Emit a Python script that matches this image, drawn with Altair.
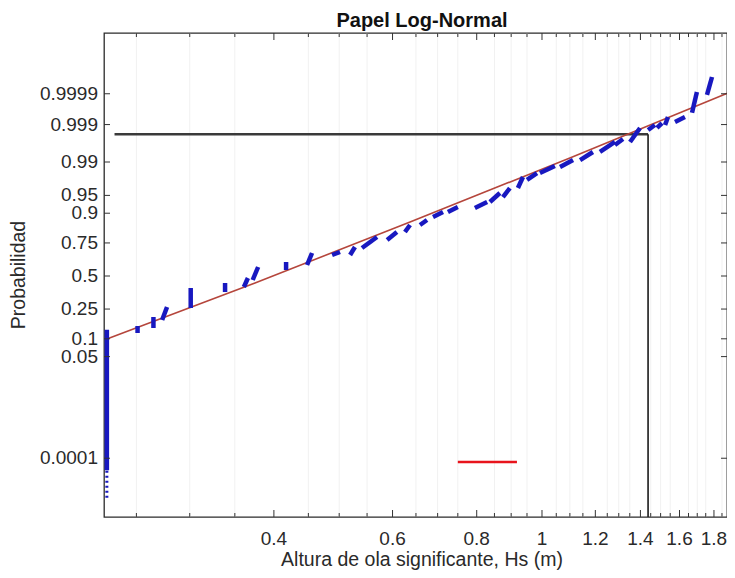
import altair as alt
import pandas as pd
from statistics import NormalDist

nd = NormalDist()

# ---------------- data ----------------
# empirical plotting positions, drawn as short thick segments (one per cluster of equal/near Hs)
hs_lo = [0.226, 0.251, 0.265, 0.273, 0.301, 0.3385, 0.361, 0.372, 0.417, 0.448, 0.488, 0.519,
         0.5405, 0.589, 0.626, 0.659, 0.689, 0.725, 0.795, 0.837, 0.875, 0.921, 0.950, 0.993,
         1.0635, 1.139, 1.219, 1.283, 1.351, 1.437, 1.4815, 1.523, 1.5755, 1.670, 1.7575]
hs_hi = [0.226, 0.251, 0.265, 0.2776, 0.301, 0.3385, 0.366, 0.379, 0.417, 0.4557, 0.5014, 0.5277,
         0.569, 0.609, 0.637, 0.675, 0.713, 0.750, 0.829, 0.866, 0.896, 0.937, 0.983, 1.045,
         1.112, 1.190, 1.283, 1.319, 1.398, 1.471, 1.507, 1.538, 1.630, 1.698, 1.788]
p_lo = [3.7e-5, 0.1224, 0.1444, 0.1846, 0.2569, 0.3718, 0.4112, 0.4675, 0.5487, 0.5888, 0.6659, 0.6659,
        0.7161, 0.7688, 0.8154, 0.8510, 0.8857, 0.9042, 0.9174, 0.9345, 0.9465, 0.9637, 0.9750, 0.9822,
        0.9869, 0.9910, 0.99431, 0.99624, 0.99688, 0.99856, 0.99874, 0.99897, 0.99916, 0.99957, 0.99989]
p_hi = [0.136, 0.1539, 0.2013, 0.2634, 0.4032, 0.4431, 0.4837, 0.5729, 0.6124, 0.6806, 0.6879, 0.7230,
        0.7870, 0.8154, 0.8510, 0.8735, 0.9042, 0.9205, 0.9345, 0.9549, 0.9637, 0.9783, 0.9822, 0.9876,
        0.9910, 0.99431, 0.99688, 0.99741, 0.99874, 0.99897, 0.99910, 0.99941, 0.99941, 0.999913, 0.9999756]

# dotted tail of the lowest cluster
tail_hs = [0.226]
tail_p_lo = [3.0e-6]
tail_p_hi = [3.7e-5]

# fitted log-normal line
fit_hs = [0.226, 0.375, 0.637, 1.100, 1.934]
fit_p = [0.0992, 0.4431, 0.8648, 0.99198, 0.999926]

# design value lines
design_hs = 1.437
design_p = 0.9981
design_hs_start = 0.232

# short red segment
red_hs = [0.750, 0.918]
red_p = [7.35e-5, 7.35e-5]

# texts
title_text = "Papel Log-Normal"
x_title = "Altura de ola significante, Hs (m)"
y_title = "Probabilidad"

# axes
prob_ticks = [0.0001, 0.05, 0.1, 0.25, 0.5, 0.75, 0.9, 0.95, 0.99, 0.999, 0.9999]
prob_labels = ["0.0001", "0.05", "0.1", "0.25", "0.5", "0.75", "0.9", "0.95", "0.99", "0.999", "0.9999"]
hs_ticks = [0.4, 0.6, 0.8, 1.0, 1.2, 1.4, 1.6, 1.8]
hs_labels = ["0.4", "0.6", "0.8", "1", "1.2", "1.4", "1.6", "1.8"]
hs_minor = [round(0.25 + 0.05 * i, 2) for i in range(33)]

X_DOM = [0.2238, 1.882]
Z_DOM = [-4.918, 4.959]
W, H = 623, 484

z = nd.inv_cdf

# ---------------- tables ----------------
seg = pd.DataFrame({"hs": hs_lo, "hs2": hs_hi,
                    "z": [z(p) for p in p_lo], "z2": [z(p) for p in p_hi]})
tail = pd.DataFrame({"hs": tail_hs, "z": [z(p) for p in tail_p_lo], "z2": [z(p) for p in tail_p_hi]})
fit = pd.DataFrame({"hs": fit_hs, "z": [z(p) for p in fit_p]})
hline = pd.DataFrame({"hs": [design_hs_start], "hs2": [design_hs], "z": [z(design_p)]})
vline = pd.DataFrame({"hs": [design_hs], "z": [Z_DOM[0]], "z2": [z(design_p)]})
red = pd.DataFrame({"hs": [red_hs[0]], "hs2": [red_hs[1]], "z": [z(red_p[0])]})
yt = pd.DataFrame({"z": [z(p) for p in prob_ticks], "label": prob_labels})
xt = pd.DataFrame({"hs": hs_ticks, "label": hs_labels})
xm = pd.DataFrame({"hs": [v for v in hs_minor if all(abs(v - t) > 1e-6 for t in hs_ticks)]})

xs = alt.Scale(type="log", domain=X_DOM, nice=False, zero=False)
ys = alt.Scale(type="linear", domain=Z_DOM, nice=False, zero=False)

FONT = "Liberation Sans"
FS = 19
TXT = "#2a2a2a"

x_axis = alt.Axis(values=hs_ticks, labels=False, title=None, ticks=False, domain=False,
                  grid=True, gridColor="#e2e2e2")
y_axis = alt.Axis(values=[z(p) for p in prob_ticks], labels=False, title=None, ticks=False,
                  domain=False, grid=True, gridColor="#d4d4d4")


def X(f):
    return alt.X(f, type="quantitative", scale=xs, axis=None)


def Y(f):
    return alt.Y(f, type="quantitative", scale=ys, axis=None)


axes_layer = alt.Chart(fit).mark_point(opacity=0).encode(
    x=alt.X("hs:Q", scale=xs, axis=x_axis),
    y=alt.Y("z:Q", scale=ys, axis=y_axis),
)

minor_grid = alt.Chart(xm).mark_rule(color="#f1f1f1", strokeWidth=1).encode(x=X("hs"))

tick_col = "#333333"
ticks_bottom = alt.Chart(xt).mark_rule(color=tick_col, strokeWidth=1).encode(
    x=X("hs"), y=alt.value(H), y2=alt.value(H - 7))
ticks_top = alt.Chart(xt).mark_rule(color=tick_col, strokeWidth=1).encode(
    x=X("hs"), y=alt.value(0), y2=alt.value(7))
mticks_bottom = alt.Chart(xm).mark_rule(color=tick_col, strokeWidth=1).encode(
    x=X("hs"), y=alt.value(H), y2=alt.value(H - 4))
mticks_top = alt.Chart(xm).mark_rule(color=tick_col, strokeWidth=1).encode(
    x=X("hs"), y=alt.value(0), y2=alt.value(4))
ticks_left = alt.Chart(yt).mark_rule(color=tick_col, strokeWidth=1).encode(
    y=Y("z"), x=alt.value(0), x2=alt.value(6))
ticks_right = alt.Chart(yt).mark_rule(color=tick_col, strokeWidth=1).encode(
    y=Y("z"), x=alt.value(W), x2=alt.value(W - 6))

# tick labels and titles as text marks
y_labels = alt.Chart(yt).mark_text(align="right", baseline="middle", font=FONT, fontSize=FS,
                                   color=TXT).encode(y=Y("z"), x=alt.value(-6), text="label:N")
x_labels = alt.Chart(xt).mark_text(align="center", baseline="top", font=FONT, fontSize=FS,
                                   color=TXT).encode(x=X("hs"), y=alt.value(H + 13), text="label:N")
x_title_l = alt.Chart(pd.DataFrame({"t": [x_title]})).mark_text(
    align="center", baseline="alphabetic", font=FONT, fontSize=19.5, color=TXT).encode(
    x=alt.value(318), y=alt.value(H + 49), text="t:N")
y_title_l = alt.Chart(pd.DataFrame({"t": [y_title]})).mark_text(
    align="center", baseline="alphabetic", angle=270, font=FONT, fontSize=19.5, color=TXT).encode(
    x=alt.value(-79), y=alt.value(H / 2), text="t:N")
title_l = alt.Chart(pd.DataFrame({"t": [title_text]})).mark_text(
    align="center", baseline="alphabetic", font=FONT, fontSize=20, fontWeight="bold",
    color="#111111").encode(x=alt.value(318), y=alt.value(-6), text="t:N")

h_design = alt.Chart(hline).mark_rule(color="#3a3a3a", strokeWidth=2.5).encode(
    x=X("hs"), x2="hs2", y=Y("z"))
v_design = alt.Chart(vline).mark_rule(color="#1a1a1a", strokeWidth=1.6).encode(
    x=X("hs"), y=Y("z"), y2="z2")

fit_line = alt.Chart(fit).mark_line(color="#b5463c", strokeWidth=1.6, clip=True).encode(
    x=X("hs"), y=Y("z"))

blue = "#1818c0"
segs = alt.Chart(seg).mark_rule(color=blue, strokeWidth=4.5, clip=True).encode(
    x=X("hs"), x2="hs2", y=Y("z"), y2="z2")
tail_l = alt.Chart(tail).mark_rule(color=blue, strokeWidth=3, strokeDash=[2, 3], clip=True).encode(
    x=X("hs"), y=Y("z"), y2="z2")

red_l = alt.Chart(red).mark_rule(color="#e8141c", strokeWidth=2.5).encode(
    x=X("hs"), x2="hs2", y=Y("z"))

chart = alt.layer(
    axes_layer, minor_grid, h_design, v_design, fit_line, segs, tail_l, red_l,
    ticks_bottom, ticks_top, mticks_bottom, mticks_top, ticks_left, ticks_right,
    y_labels, x_labels, x_title_l, y_title_l, title_l,
).properties(
    width=W, height=H,
    padding={"left": 96, "top": 25, "right": 0, "bottom": 53},
    autosize=alt.AutoSizeParams(type="none"),
    background="white",
).configure_view(stroke="#2b2b2b", strokeWidth=1.3)

chart.save("out.html", embed_options={"renderer": "svg", "actions": False})
